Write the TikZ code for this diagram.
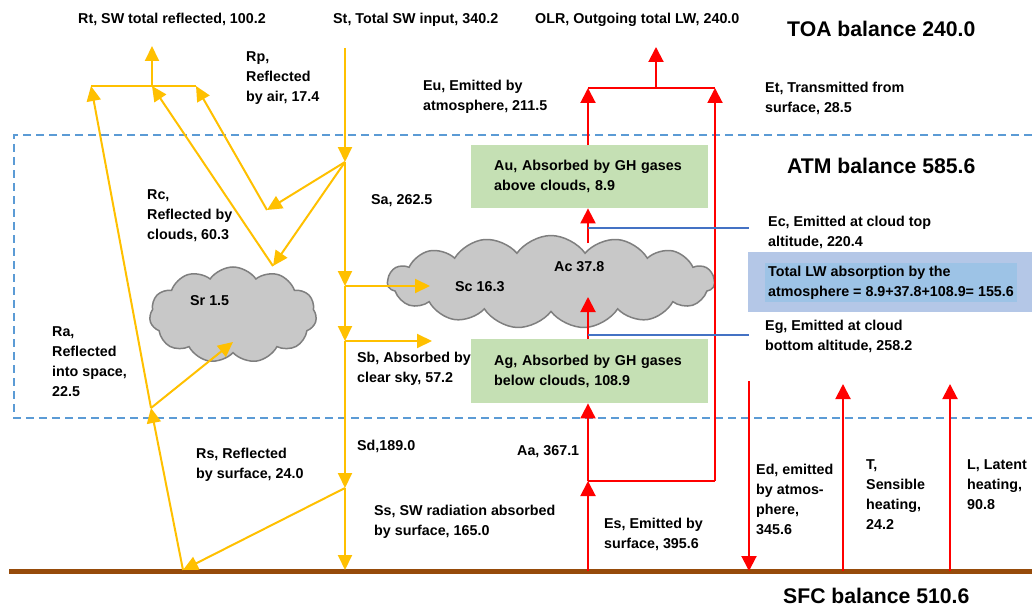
\documentclass[tikz,border=0pt]{standalone}
\usepackage{fontspec}
\setmainfont{Liberation Sans}
\usepackage{tikz}
\usetikzlibrary{positioning, shapes.symbols, arrows.meta}
\definecolor{swyellow}{RGB}{255,192,0}
\definecolor{lwred}{RGB}{255,0,0}
\definecolor{atmblue}{RGB}{91,155,213}
\definecolor{lvlblue}{RGB}{68,114,196}
\definecolor{gasgreen}{RGB}{197,224,180}
\definecolor{lwboxout}{RGB}{180,199,231}
\definecolor{lwboxin}{RGB}{157,195,230}
\definecolor{cloudfill}{RGB}{200,200,200}
\definecolor{cloudedge}{RGB}{127,127,127}
\definecolor{sfcbrown}{RGB}{150,75,10}
\tikzset{
    sw/.style={swyellow, line width=2pt, -{Triangle[width=14pt,length=15pt]}},
    swline/.style={swyellow, line width=2pt},
    lw/.style={lwred, line width=2pt, -{Triangle[width=15pt,length=15pt]}},
    lwline/.style={lwred, line width=2pt},
    lvl/.style={lvlblue, line width=1.5pt},
    atmbox/.style={atmblue, line width=2pt, dash pattern=on 8pt off 5pt},
    sfc/.style={sfcbrown, line width=5pt},
    lbl/.style={font=\fontsize{14.3}{20}\selectfont\bfseries, align=left, inner sep=0pt, anchor=north west},
    ttl/.style={font=\fontsize{21.2}{25}\selectfont\bfseries, inner sep=0pt, anchor=north west},
    gasbox/.style={fill=gasgreen, font=\fontsize{14.3}{20}\selectfont\bfseries, align=left, text width=191pt, inner xsep=23pt, inner ysep=0pt, anchor=north west},
    cloudy/.style={cloud, cloud puffs=11, cloud puff arc=110, cloud ignores aspect, draw=cloudedge, fill=cloudfill, line width=1.5pt, inner sep=0pt},
}

\begin{document}
\begin{tikzpicture}[x=1pt, y=-1pt]
            \useasboundingbox (0,0) rectangle (1032,607);
            \draw[atmbox] (1032,135) -- (14,135) -- (14,418) -- (1032,418);
            \draw[sfc] (9,571) -- (1032,571);
            \node[cloudy, minimum width=167pt, minimum height=96pt] (srCloud) at (233,315) {};
            \node[cloudy, cloud puffs=15, minimum width=327pt, minimum height=93pt] (acCloud) at (551,282) {};
            \node[gasbox, minimum height=63pt] (auBox) at (471,145) {Au, Absorbed by GH gases\\above clouds, 8.9};
            \node[gasbox, minimum height=64pt] (agBox) at (471,339) {Ag, Absorbed by GH gases\\below clouds, 108.9};
            \node[fill=lwboxout, anchor=west, minimum width=284pt, minimum height=60pt, inner sep=0pt] (lwOuter) at (748,282) {};
            \node[fill=lwboxin, font=\fontsize{14.3}{20}\selectfont\bfseries, align=left, inner xsep=3pt, inner ysep=3pt, anchor=west] (lwInner) at (765,282.5) {Total LW absorption by the\\atmosphere = 8.9+37.8+108.9= 155.6};
            \coordinate (stTop) at (345,48);
            \coordinate (jRp) at (345,162);
            \coordinate (jSc) at (345,286);
            \coordinate (jSb) at (345,341);
            \coordinate (jSs) at (345,488);
            \coordinate (stGnd) at (345,570);
            \coordinate (rpHit) at (267,210);
            \coordinate (srTop) at (273,266);
            \coordinate (srLow) at (233,342);
            \coordinate (rtBarL) at (91,86);
            \coordinate (rtBarM) at (152,86);
            \coordinate (rtBarR) at (196,86);
            \coordinate (rtTop) at (152,46);
            \coordinate (rsGnd) at (183,570);
            \coordinate (rsMid) at (151,408);
            \coordinate (scTip) at (430,286);
            \coordinate (sbTip) at (432,341);
            \coordinate (esGnd) at (588,571);
            \coordinate (jEs) at (588,481);
            \coordinate (acLow) at (588,297);
            \coordinate (acHigh) at (588,243);
            \coordinate (euBarL) at (588,88);
            \coordinate (euBarR) at (715,88);
            \coordinate (olrFoot) at (656,88);
            \coordinate (olrTop) at (656,47);
            \coordinate (etFoot) at (715,481);
            \coordinate (edTop) at (749,381);
            \coordinate (edGnd) at (749,571);
            \coordinate (tGnd) at (843,571);
            \coordinate (tTop) at (843,384);
            \coordinate (lGnd) at (950,571);
            \coordinate (lTop) at (950,384);
            \coordinate (ecL) at (588,228);
            \coordinate (ecR) at (749,228);
            \coordinate (egL) at (588,335);
            \coordinate (egR) at (749,335);
            \draw[sw] (stTop) -- (jRp);
            \draw[sw] (jRp) -- (jSc);
            \draw[sw] (jSc) -- (jSb);
            \draw[sw] (jSb) -- (jSs);
            \draw[sw] (jSs) -- (stGnd);
            \draw[sw] (jRp) -- (rpHit);
            \draw[sw] (rpHit) -- (rtBarR);
            \draw[sw] (jRp) -- (srTop);
            \draw[sw] (srTop) -- (rtBarM);
            \draw[sw] (jSc) -- (scTip);
            \draw[sw] (jSb) -- (sbTip);
            \draw[sw] (jSs) -- (rsGnd);
            \draw[sw] (rsGnd) -- (rsMid);
            \draw[sw] (rsMid) -- (rtBarL);
            \draw[sw] (rsMid) -- (srLow);
            \draw[swline] (rtBarL) -- (rtBarR);
            \draw[sw] (rtBarM) -- (rtTop);
            \draw[lw] (esGnd) -- (jEs);
            \draw[lw] (jEs) -- (esGnd |- agBox.south);
            \draw[lw] (esGnd |- agBox.north) -- (acLow);
            \draw[lw] (acHigh) -- (esGnd |- auBox.south);
            \draw[lw] (esGnd |- auBox.north) -- (euBarL);
            \draw[lwline] (euBarL) -- (euBarR);
            \draw[lw] (olrFoot) -- (olrTop);
            \draw[lwline] (jEs) -- (etFoot);
            \draw[lw] (etFoot) -- (euBarR);
            \draw[lw] (edTop) -- (edGnd);
            \draw[lw] (tGnd) -- (tTop);
            \draw[lw] (lGnd) -- (lTop);
            \draw[lvl] (ecL) -- (ecR);
            \draw[lvl] (egL) -- (egR);
            \node[lbl] (srLbl) at (190,295.5) {Sr 1.5};
            \node[lbl] (scLbl) at (455,281.5) {Sc 16.3};
            \node[lbl] (acLbl) at (554,261.5) {Ac 37.8};
            \node[lbl] (rtLbl) at (78,12.5) {Rt, SW total reflected, 100.2};
            \node[lbl] (stLbl) at (333,12.5) {St, Total SW input, 340.2};
            \node[lbl] (olrLbl) at (535,12.5) {OLR, Outgoing total LW, 240.0};
            \node[ttl] (toaLbl) at (787,20.5) {TOA balance 240.0};
            \node[ttl] (atmLbl) at (787,157.5) {ATM balance 585.6};
            \node[ttl] (sfcLbl) at (783,587.5) {SFC balance 510.6};
            \node[lbl] (rpLbl) at (246,51.5) {Rp,\\Reflected\\by air, 17.4};
            \node[lbl] (euLbl) at (423,79.5) {Eu, Emitted by\\atmosphere, 211.5};
            \node[lbl] (etLbl) at (765,82) {Et, Transmitted from\\surface, 28.5};
            \node[lbl] (saLbl) at (371,194.5) {Sa, 262.5};
            \node[lbl] (rcLbl) at (147,189.5) {Rc,\\Reflected by\\clouds, 60.3};
            \node[lbl] (raLbl) at (52,326.5) {Ra,\\Reflected\\into space,\\22.5};
            \node[lbl] (sbLbl) at (357,351.5) {Sb, Absorbed by\\clear sky, 57.2};
            \node[lbl] (ecLbl) at (768,215.5) {Ec, Emitted at cloud top\\altitude, 220.4};
            \node[lbl] (egLbl) at (765,319.5) {Eg, Emitted at cloud\\bottom altitude, 258.2};
            \node[lbl] (sdLbl) at (357,439.5) {Sd,189.0};
            \node[lbl] (aaLbl) at (517,445.5) {Aa, 367.1};
            \node[lbl] (rsLbl) at (196,447.5) {Rs, Reflected\\by surface, 24.0};
            \node[lbl] (ssLbl) at (374,504.5) {Ss, SW radiation absorbed\\by surface, 165.0};
            \node[lbl] (esLbl) at (604,517.5) {Es, Emitted by\\surface, 395.6};
            \node[lbl] (edLbl) at (756,463.5) {Ed, emitted\\by atmos-\\phere,\\345.6};
            \node[lbl] (tLbl) at (866,459.5) {T,\\Sensible\\heating,\\24.2};
            \node[lbl] (lLbl) at (967,459.5) {L, Latent\\heating,\\90.8};
        \end{tikzpicture}
\end{document}
